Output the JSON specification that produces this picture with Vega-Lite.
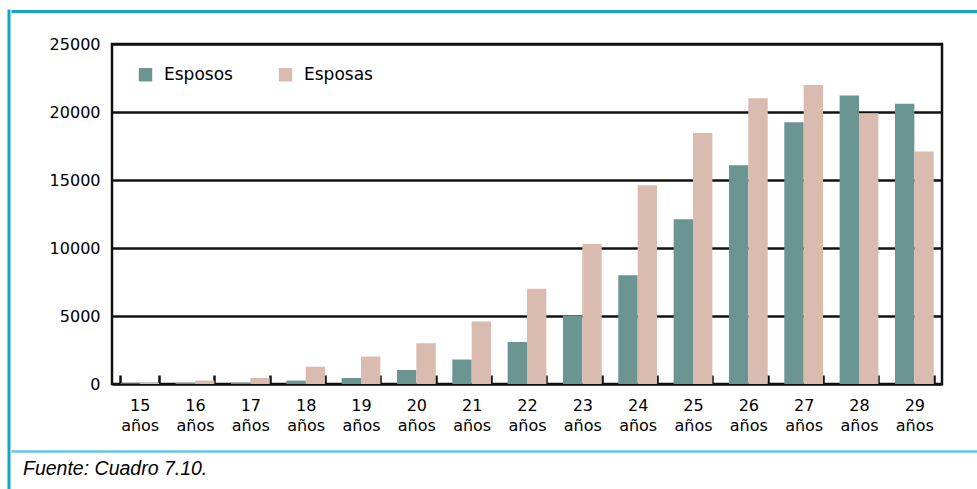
{
  "$schema": "https://vega.github.io/schema/vega-lite/v6.json",
  "padding": {"left": 7, "top": 9, "right": 0, "bottom": 0},
  "background": "white",
  "config": {"font": "DejaVu Sans", "concat": {"spacing": 0}},
  "datasets": {
    "bars": [
      {"edad": "15", "serie": "Esposos", "valor": 50},
      {"edad": "15", "serie": "Esposas", "valor": 80},
      {"edad": "16", "serie": "Esposos", "valor": 80},
      {"edad": "16", "serie": "Esposas", "valor": 250},
      {"edad": "17", "serie": "Esposos", "valor": 100},
      {"edad": "17", "serie": "Esposas", "valor": 440},
      {"edad": "18", "serie": "Esposos", "valor": 250},
      {"edad": "18", "serie": "Esposas", "valor": 1270},
      {"edad": "19", "serie": "Esposos", "valor": 440},
      {"edad": "19", "serie": "Esposas", "valor": 2020},
      {"edad": "20", "serie": "Esposos", "valor": 1030},
      {"edad": "20", "serie": "Esposas", "valor": 3000},
      {"edad": "21", "serie": "Esposos", "valor": 1800},
      {"edad": "21", "serie": "Esposas", "valor": 4600},
      {"edad": "22", "serie": "Esposos", "valor": 3090},
      {"edad": "22", "serie": "Esposas", "valor": 7000},
      {"edad": "23", "serie": "Esposos", "valor": 5040},
      {"edad": "23", "serie": "Esposas", "valor": 10300},
      {"edad": "24", "serie": "Esposos", "valor": 7990},
      {"edad": "24", "serie": "Esposas", "valor": 14620},
      {"edad": "25", "serie": "Esposos", "valor": 12110},
      {"edad": "25", "serie": "Esposas", "valor": 18450},
      {"edad": "26", "serie": "Esposos", "valor": 16080},
      {"edad": "26", "serie": "Esposas", "valor": 21010},
      {"edad": "27", "serie": "Esposos", "valor": 19250},
      {"edad": "27", "serie": "Esposas", "valor": 21990},
      {"edad": "28", "serie": "Esposos", "valor": 21210},
      {"edad": "28", "serie": "Esposas", "valor": 19910},
      {"edad": "29", "serie": "Esposos", "valor": 20600},
      {"edad": "29", "serie": "Esposas", "valor": 17100}
    ],
    "empty": []
  },
  "hconcat": [
    {
      "width": 0.01,
      "height": 479,
      "view": {"stroke": "#17a2c8", "strokeWidth": 3},
      "data": {"name": "empty"},
      "mark": "rule",
      "encoding": {}
    },
    {
      "spacing": 22,
      "vconcat": [
        {
          "width": 866,
          "height": 0.01,
          "view": {"stroke": null},
          "data": {"name": "empty"},
          "mark": "rule",
          "encoding": {
            "x": {
              "field": "a",
              "type": "quantitative",
              "scale": {"domain": [0, 1], "range": [-101, 866]},
              "axis": {"orient": "top", "title": null, "labels": false, "ticks": false, "grid": false, "domain": true, "domainColor": "#17a2c8", "domainWidth": 3}
            }
          }
        },
        {
          "spacing": 16,
          "vconcat": [
            {
              "width": 830,
              "height": 340,
              "view": {"stroke": "#111111", "strokeWidth": 2.5},
              "data": {"name": "bars"},
              "mark": {"type": "bar"},
              "encoding": {
                "x": {
                  "field": "edad",
                  "type": "ordinal",
                  "sort": null,
                  "scale": {"paddingInner": 0.3, "paddingOuter": 0.15},
                  "axis": {
                    "title": null,
                    "labelAngle": 0,
                    "labelExpr": "datum.label ? [datum.label, 'años'] : ''",
                    "labelFontSize": 16,
                    "labelLineHeight": 20,
                    "labelColor": "#000000",
                    "labelPadding": 22,
                    "labelFlush": false,
                    "labelOverlap": false,
                    "labelBound": false,
                    "domain": false,
                    "ticks": true,
                    "tickBand": "extent",
                    "tickSize": -9,
                    "tickWidth": 2.5,
                    "tickColor": "#111111"
                  }
                },
                "xOffset": {"field": "serie", "type": "nominal", "sort": ["Esposos", "Esposas"], "scale": {"paddingInner": 0}},
                "y": {
                  "field": "valor",
                  "type": "quantitative",
                  "scale": {"domain": [0, 25000], "nice": false},
                  "axis": {
                    "title": null,
                    "values": [0, 5000, 10000, 15000, 20000, 25000],
                    "format": "d",
                    "labelFontSize": 16,
                    "labelColor": "#000000",
                    "labelPadding": 12,
                    "ticks": false,
                    "domain": false,
                    "grid": true,
                    "gridColor": "#111111",
                    "gridWidth": 2.5,
                    "minExtent": 99
                  }
                },
                "color": {
                  "field": "serie",
                  "type": "nominal",
                  "scale": {"domain": ["Esposos", "Esposas"], "range": ["#6b9591", "#dabbb0"]},
                  "legend": {
                    "title": null,
                    "orient": "none",
                    "legendX": 128,
                    "legendY": 55,
                    "direction": "horizontal",
                    "symbolType": "square",
                    "symbolSize": 180,
                    "symbolStrokeWidth": 0,
                    "labelFontSize": 17,
                    "labelColor": "#000000",
                    "labelOffset": 10,
                    "columnPadding": 44
                  }
                }
              }
            },
            {
              "width": 866,
              "height": 0.01,
              "view": {"stroke": null},
              "data": {"name": "empty"},
              "mark": "rule",
              "encoding": {
                "x": {
                  "field": "a",
                  "type": "quantitative",
                  "scale": {"domain": [0, 1], "range": [-101, 866]},
                  "axis": {"orient": "top", "title": null, "labels": false, "ticks": false, "grid": false, "domain": true, "domainColor": "#62c6de", "domainWidth": 2.5}
                }
              },
              "title": {
                "text": "Fuente: Cuadro 7.10.",
                "orient": "bottom",
                "anchor": "start",
                "font": "Liberation Sans",
                "fontSize": 19.5,
                "fontStyle": "italic",
                "fontWeight": "normal",
                "color": "#000000",
                "dx": -89,
                "offset": 9
              }
            }
          ]
        }
      ]
    }
  ]
}
